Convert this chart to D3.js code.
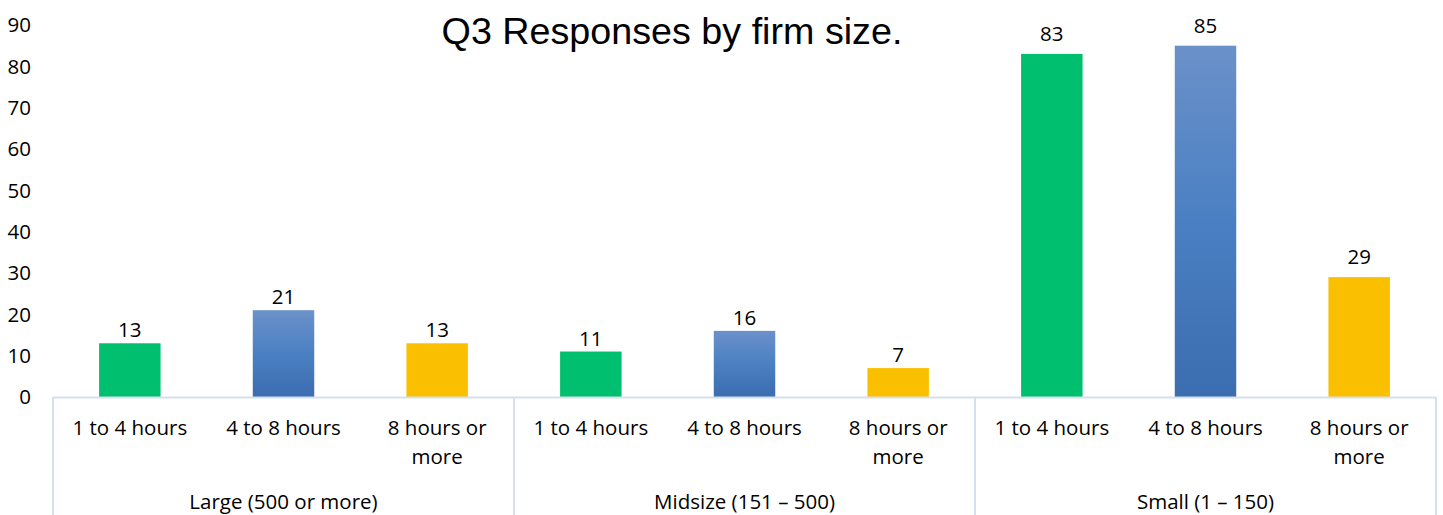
<!DOCTYPE html>
<html>
<head>
<meta charset="utf-8">
<script src="https://cdn.jsdelivr.net/npm/d3@7"></script>
<style>
  body { margin: 0; background: #fff; }
  svg { display: block; font-family: "Open Sans", Lato, sans-serif; }
</style>
</head>
<body>
<svg id="chart" width="1443" height="515"></svg>
<script>
  var groups = ['Large (500 or more)', 'Midsize (151 \u2013 500)', 'Small (1 \u2013 150)'],
      categories = ['1 to 4 hours', '4 to 8 hours', '8 hours or more'],
      largeValues = [13, 21, 13],
      midsizeValues = [11, 16, 7],
      smallValues = [83, 85, 29],
      yTicks = [0, 10, 20, 30, 40, 50, 60, 70, 80, 90];

  var seriesByGroup = [largeValues, midsizeValues, smallValues];

  var svg = d3.select('#chart'),
      plotLeft = 53, plotRight = 1436, plotTop = 25, base = 397,
      labelSize = 20.5;

  // label gap above bar differs in the last group of the original
  var labelGap = [6, 6, 13];

  var defs = svg.append('defs');
  var grad = defs.append('linearGradient')
      .attr('id', 'blueGrad')
      .attr('x1', 0).attr('y1', 0).attr('x2', 0).attr('y2', 1);
  grad.append('stop').attr('offset', '0%').attr('stop-color', '#6b91c9');
  grad.append('stop').attr('offset', '50%').attr('stop-color', '#4a80c3');
  grad.append('stop').attr('offset', '100%').attr('stop-color', '#3b6daf');

  var colors = ['#00bf6f', 'url(#blueGrad)', '#fac000'];

  // Scales
  var xGroup = d3.scaleBand().domain(groups).range([plotLeft, plotRight]).padding(0);
  var xCat = d3.scaleBand().domain(categories).range([0, xGroup.bandwidth()]).paddingInner(0.6).paddingOuter(0.3);
  var y = d3.scaleLinear().domain([0, 90]).range([base, plotTop]);

  // Y axis labels (no axis line)
  svg.append('g').selectAll('text')
    .data(yTicks)
    .enter().append('text')
      .attr('x', 31)
      .attr('y', function(d) { return y(d); })
      .attr('dy', '0.35em')
      .attr('text-anchor', 'end')
      .attr('font-size', labelSize)
      .attr('fill', '#000')
      .text(function(d) { return d; });

  // Bars
  var g = svg.append('g');
  groups.forEach(function(grp, gi) {
    var gx = xGroup(grp);
    var vals = seriesByGroup[gi];
    categories.forEach(function(cat, ci) {
      var bx = gx + xCat(cat);
      g.append('rect')
        .attr('x', bx)
        .attr('y', y(vals[ci]))
        .attr('width', xCat.bandwidth())
        .attr('height', base - y(vals[ci]))
        .attr('fill', colors[ci]);
      g.append('text')
        .attr('x', bx + xCat.bandwidth() / 2)
        .attr('y', y(vals[ci]) - labelGap[gi])
        .attr('text-anchor', 'middle')
        .attr('font-size', 20.5)
        .text(vals[ci]);

      // Category labels (wrap long one)
      var cx = gx + xCat(cat) + xCat.bandwidth() / 2;
      var words = cat === '8 hours or more' ? ['8 hours or', 'more'] : [cat];
      words.forEach(function(line, li) {
        g.append('text')
          .attr('x', cx)
          .attr('y', 428 + li * 29)
          .attr('dy', '0.35em')
          .attr('text-anchor', 'middle')
          .attr('font-size', labelSize)
          .text(line);
      });
    });

    // Group label
    g.append('text')
      .attr('x', gx + xGroup.bandwidth() / 2)
      .attr('y', 502)
      .attr('dy', '0.35em')
      .attr('text-anchor', 'middle')
      .attr('font-size', labelSize)
      .text(grp);
  });

  // Axis line and group separators
  var lineColor = '#d5dff0';
  svg.append('line')
    .attr('x1', plotLeft).attr('x2', plotRight)
    .attr('y1', base + 0.5).attr('y2', base + 0.5)
    .attr('stroke', lineColor).attr('stroke-width', 2);
  var seps = groups.map(function(d) { return xGroup(d); }).concat([plotRight]);
  svg.append('g').selectAll('line')
    .data(seps)
    .enter().append('line')
      .attr('x1', function(d) { return d; })
      .attr('x2', function(d) { return d; })
      .attr('y1', base)
      .attr('y2', 515)
      .attr('stroke', lineColor)
      .attr('stroke-width', 2);

  // Title
  svg.append('text')
    .attr('x', 672)
    .attr('y', 44)
    .attr('text-anchor', 'middle')
    .attr('font-family', '"Liberation Sans", Arial, sans-serif')
    .attr('font-size', 37.7)
    .text('Q3 Responses by firm size.');
</script>
</body>
</html>
